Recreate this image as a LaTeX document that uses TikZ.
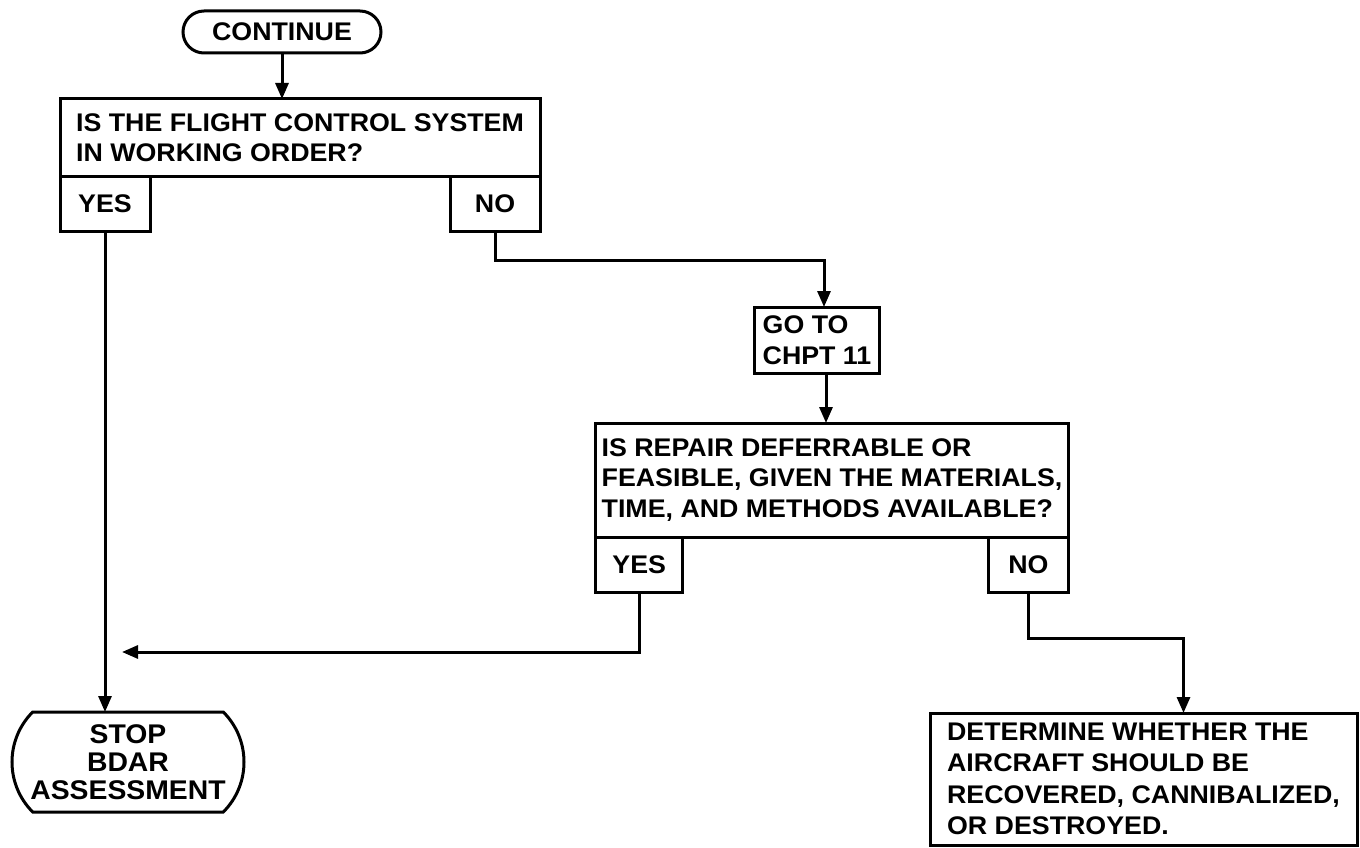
\documentclass[tikz,border=0pt]{standalone}
\usepackage{fontspec}
\setmainfont{Liberation Sans}[FakeStretch=1.05]
\usetikzlibrary{arrows.meta, positioning, shapes.misc, calc}

\begin{document}
\begin{tikzpicture}[
    x=1pt, y=-1pt,
    line width=3pt,
    font=\fontsize{25.5}{30.5}\selectfont\bfseries,
    term/.style={draw, rounded rectangle, align=center, inner sep=4pt, outer sep=0pt},
    qbox/.style={draw, align=left, inner xsep=6pt, outer sep=0pt},
    tab/.style={draw, minimum height=55pt, align=center, outer sep=0pt},
    act/.style={draw, align=left, inner xsep=8pt, outer sep=0pt},
    arr/.style={-{Triangle[length=16pt, width=13pt]}},
]
\useasboundingbox (0,0) rectangle (1360,848);

\node[term, minimum width=206pt, minimum height=42pt] (cont) at (282,32) {CONTINUE};
\node[qbox, minimum width=480pt, minimum height=77pt] (q1) at (300,137.5)
    {IS THE FLIGHT CONTROL SYSTEM\\IN WORKING ORDER?};
\node[tab, minimum width=90pt, below right=0pt of q1.south west] (yes1) {YES};
\node[tab, minimum width=90pt, below left=0pt of q1.south east] (no1) {NO};

\node[act, minimum width=124pt, minimum height=66pt] (goto) at (817,340)
    {GO TO\\CHPT 11};

\node[qbox, minimum width=460pt, minimum height=114pt] (q2) at (832,480)
    {IS REPAIR DEFERRABLE OR\\FEASIBLE, GIVEN THE MATERIALS,\\TIME, AND METHODS AVAILABLE?};
\node[tab, minimum width=87pt, below right=0pt of q2.south west] (yes2) {YES};
\node[tab, minimum width=80pt, below left=0pt of q2.south east] (no2) {NO};

\node[term, rounded rectangle arc length=90, minimum width=240pt, minimum height=100pt,
      font=\fontsize{27}{28}\selectfont\bfseries] (stop) at (128,762)
    {STOP\\BDAR\\ASSESSMENT};
\node[act, minimum width=427pt, minimum height=132pt,
      font=\fontsize{25.5}{31.5}\selectfont\bfseries] (det) at (1143.5,779)
    {DETERMINE WHETHER THE\\AIRCRAFT SHOULD BE\\RECOVERED, CANNIBALIZED,\\OR DESTROYED.};

\coordinate (merge) at (122,652);

\draw[arr] (cont) -- (cont |- q1.north);
\draw[arr] (yes1) -- (yes1 |- stop.north);
\draw[arr] (no1.south) -- ++(0,29) -| ([xshift=7pt]goto.north);
\draw[arr] ([xshift=9pt]goto.south) -- ([xshift=9pt]goto.south |- q2.north);
\draw[arr] (yes2.south) |- (merge);
\draw[arr] (no2.south) -- ++(0,46) -| ([xshift=40pt]det.north);

\end{tikzpicture}
\end{document}
